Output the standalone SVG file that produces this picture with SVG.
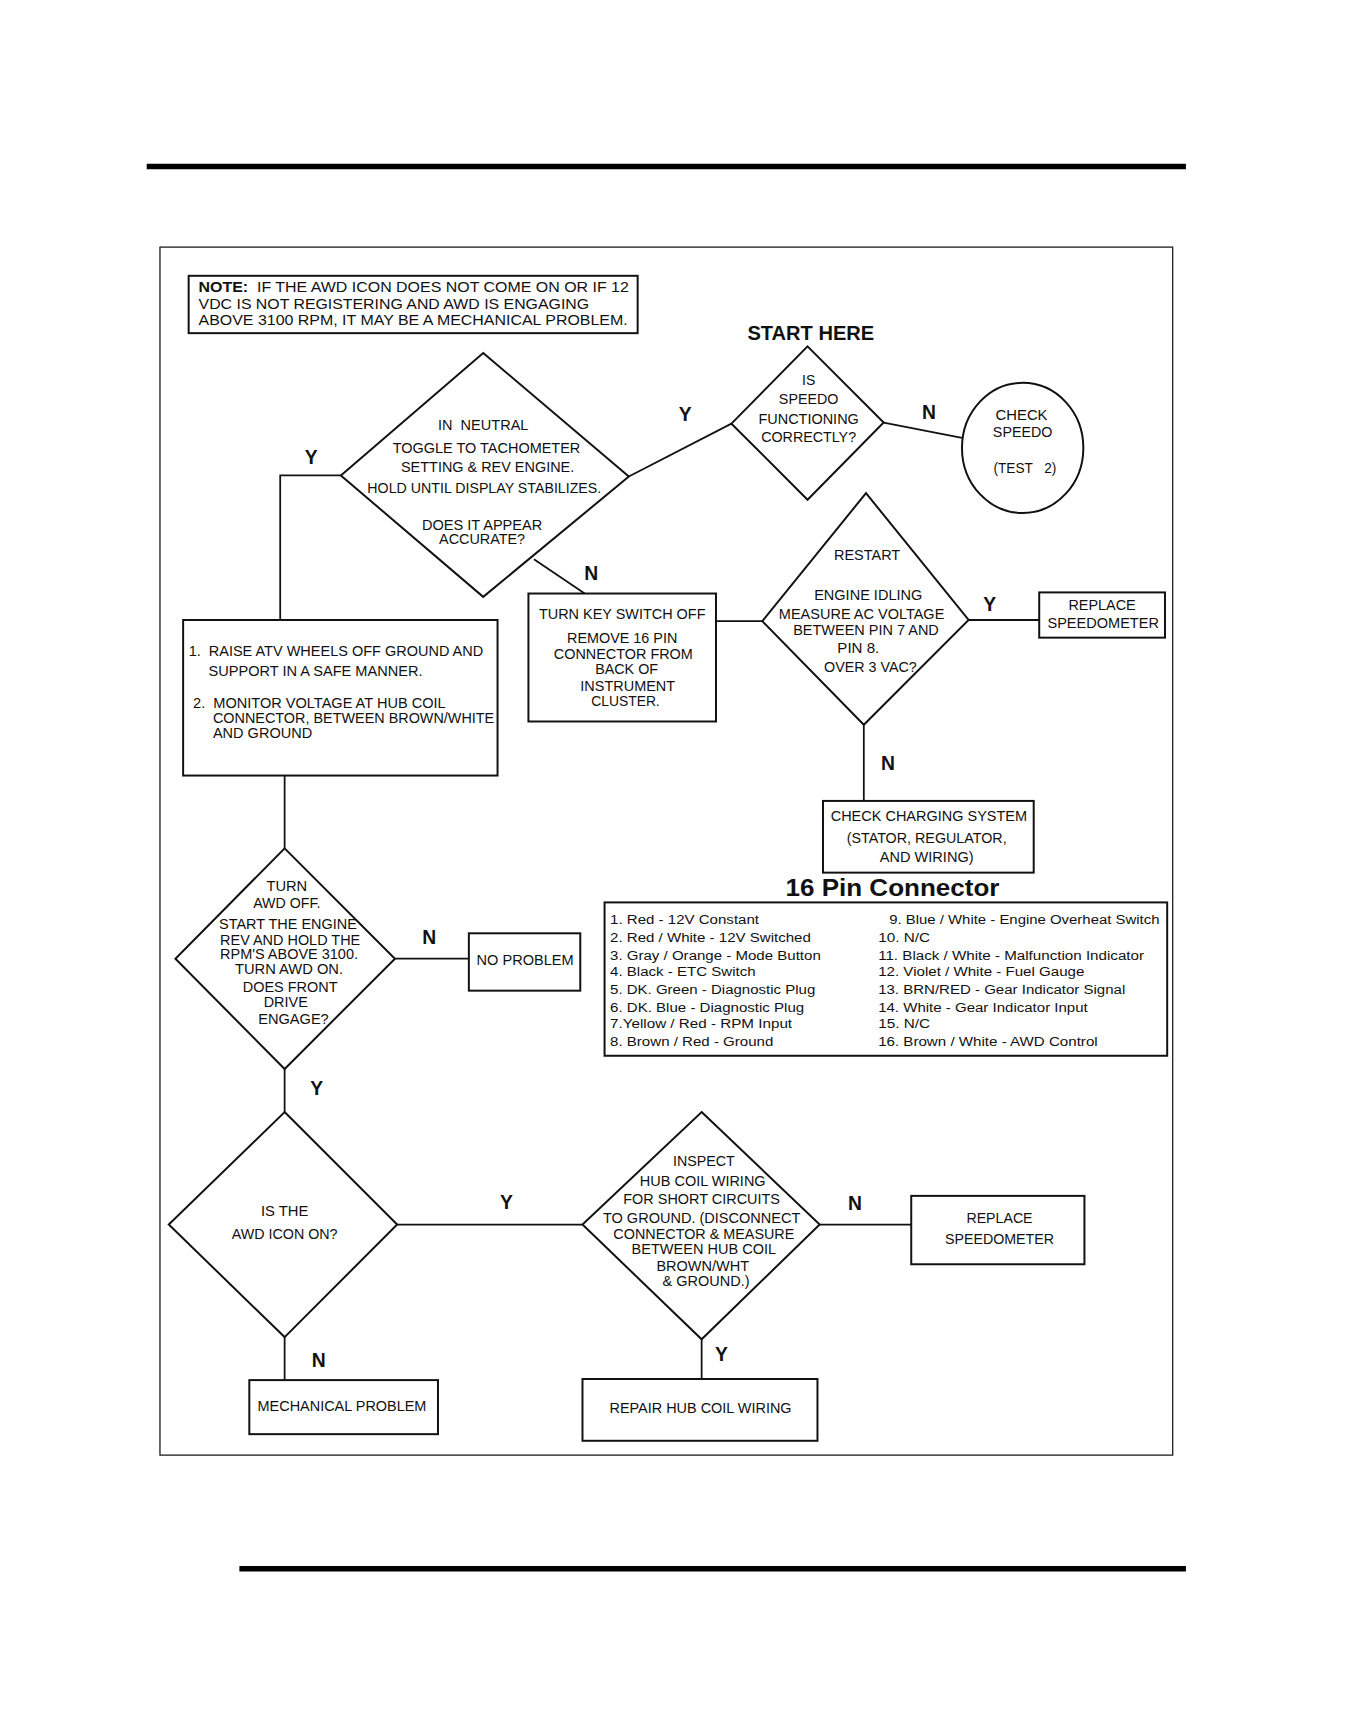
<svg xmlns="http://www.w3.org/2000/svg" width="1368" height="1728" viewBox="0 0 1368 1728">
<style>
.shape{fill:#fff;stroke:#111;stroke-width:1.8}
.frame{fill:none;stroke:#222;stroke-width:1.2}
.bar{stroke:#000;stroke-width:5}
.conn line,.conn polyline{stroke:#111;stroke-width:1.6;fill:none}
text{font-family:"Liberation Sans",Arial,Helvetica,sans-serif;fill:#111}
.t{font-size:12.5px;text-anchor:middle}
.tl{font-size:12.5px}
.p{font-size:12px}
.lab{font-size:17.5px;font-weight:bold;text-anchor:middle}
</style>
<rect x="0" y="0" width="1368" height="1728" fill="#fff"/>
<g transform="scale(1.1032)">
<g id="page">
<line class="bar" x1="133" y1="151" x2="1075" y2="151"/>
<line class="bar" x1="217" y1="1422" x2="1075" y2="1422"/>
<rect class="frame" x="145" y="224" width="918" height="1095"/>
</g>

<g class="conn" id="connectors">
<line x1="570" y1="432" x2="663" y2="384"/>
<line x1="801" y1="383" x2="872" y2="397"/>
<polyline points="309,431 254,431 254,562"/>
<line x1="484" y1="507" x2="530" y2="538"/>
<line x1="649" y1="563" x2="692" y2="563"/>
<line x1="878" y1="562" x2="942" y2="562"/>
<line x1="783" y1="657" x2="783" y2="726"/>
<line x1="258" y1="703" x2="258" y2="769"/>
<line x1="358" y1="869" x2="425" y2="869"/>
<line x1="258" y1="969" x2="258" y2="1008"/>
<line x1="360" y1="1110" x2="528" y2="1110"/>
<line x1="743" y1="1110" x2="826" y2="1110"/>
<line x1="636" y1="1214" x2="636" y2="1250"/>
<line x1="258" y1="1212" x2="258" y2="1251"/>
</g>

<g id="labels">
<text class="lab" x="621" y="382">Y</text>
<text class="lab" x="842" y="380">N</text>
<text class="lab" x="282" y="421">Y</text>
<text class="lab" x="536" y="526">N</text>
<text class="lab" x="897" y="554">Y</text>
<text class="lab" x="805" y="698">N</text>
<text class="lab" x="389" y="856">N</text>
<text class="lab" x="287" y="993">Y</text>
<text class="lab" x="459" y="1096">Y</text>
<text class="lab" x="775" y="1097">N</text>
<text class="lab" x="654" y="1234">Y</text>
<text class="lab" x="289" y="1239">N</text>
</g>

<g id="note">
<rect class="shape" x="171" y="250" width="407" height="52"/>
<text style="font-size:14px" x="180" y="265" textLength="390" lengthAdjust="spacingAndGlyphs" xml:space="preserve"><tspan font-weight="bold">NOTE:</tspan>  IF THE AWD ICON DOES NOT COME ON OR IF 12</text>
<text style="font-size:14px" x="180" y="280" textLength="354" lengthAdjust="spacingAndGlyphs">VDC IS NOT REGISTERING AND AWD IS ENGAGING</text>
<text style="font-size:14px" x="180" y="295" textLength="389" lengthAdjust="spacingAndGlyphs">ABOVE 3100 RPM, IT MAY BE A MECHANICAL PROBLEM.</text>
</g>

<g id="start-here">
<text x="735" y="308" style="font-size:18px;font-weight:bold;text-anchor:middle" textLength="115" lengthAdjust="spacingAndGlyphs">START HERE</text>
</g>

<g id="speedo-ok">
<polygon class="shape" points="732,314 801,383 732,453 663,384"/>
<text class="t" x="733" y="349" textLength="12" lengthAdjust="spacingAndGlyphs">IS</text>
<text class="t" x="733" y="366" textLength="54" lengthAdjust="spacingAndGlyphs">SPEEDO</text>
<text class="t" x="733" y="384" textLength="91" lengthAdjust="spacingAndGlyphs">FUNCTIONING</text>
<text class="t" x="733" y="401" textLength="86" lengthAdjust="spacingAndGlyphs">CORRECTLY?</text>
</g>

<g id="check-speedo">
<ellipse class="shape" cx="927" cy="406" rx="55" ry="59"/>
<text class="t" x="926" y="381" textLength="47" lengthAdjust="spacingAndGlyphs">CHECK</text>
<text class="t" x="927" y="396" textLength="54" lengthAdjust="spacingAndGlyphs">SPEEDO</text>
<text class="t" x="929" y="429" textLength="57" lengthAdjust="spacingAndGlyphs" xml:space="preserve">(TEST   2)</text>
</g>

<g id="neutral-test">
<polygon class="shape" points="438,320 570,432 438,541 309,431"/>
<text class="t" x="438" y="390" textLength="82" lengthAdjust="spacingAndGlyphs" xml:space="preserve">IN  NEUTRAL</text>
<text class="t" x="441" y="411" textLength="170" lengthAdjust="spacingAndGlyphs">TOGGLE TO TACHOMETER</text>
<text class="t" x="442" y="428" textLength="157" lengthAdjust="spacingAndGlyphs">SETTING &amp; REV ENGINE.</text>
<text class="t" x="439" y="447" textLength="212" lengthAdjust="spacingAndGlyphs">HOLD UNTIL DISPLAY STABILIZES.</text>
<text class="t" x="437" y="480" textLength="109" lengthAdjust="spacingAndGlyphs">DOES IT APPEAR</text>
<text class="t" x="437" y="493" textLength="78" lengthAdjust="spacingAndGlyphs">ACCURATE?</text>
</g>

<g id="turn-key-off">
<rect class="shape" x="479" y="538" width="170" height="116"/>
<text class="t" x="564" y="561" textLength="151" lengthAdjust="spacingAndGlyphs">TURN KEY SWITCH OFF</text>
<text class="t" x="564" y="583" textLength="100" lengthAdjust="spacingAndGlyphs">REMOVE 16 PIN</text>
<text class="t" x="565" y="597" textLength="126" lengthAdjust="spacingAndGlyphs">CONNECTOR FROM</text>
<text class="t" x="568" y="611" textLength="57" lengthAdjust="spacingAndGlyphs">BACK OF</text>
<text class="t" x="569" y="626" textLength="86" lengthAdjust="spacingAndGlyphs">INSTRUMENT</text>
<text class="t" x="567" y="640" textLength="62" lengthAdjust="spacingAndGlyphs">CLUSTER.</text>
</g>

<g id="restart-measure">
<polygon class="shape" points="785,447 878,562 783,657 691,563"/>
<text class="t" x="786" y="508" textLength="60" lengthAdjust="spacingAndGlyphs">RESTART</text>
<text class="t" x="787" y="544" textLength="98" lengthAdjust="spacingAndGlyphs">ENGINE IDLING</text>
<text class="t" x="781" y="561" textLength="150" lengthAdjust="spacingAndGlyphs">MEASURE AC VOLTAGE</text>
<text class="t" x="785" y="576" textLength="132" lengthAdjust="spacingAndGlyphs">BETWEEN PIN 7 AND</text>
<text class="t" x="778" y="592" textLength="38" lengthAdjust="spacingAndGlyphs">PIN 8.</text>
<text class="t" x="789" y="609" textLength="84" lengthAdjust="spacingAndGlyphs">OVER 3 VAC?</text>
</g>

<g id="replace-speedometer-1">
<rect class="shape" x="942" y="537" width="114" height="41"/>
<text class="t" x="999" y="553" textLength="61" lengthAdjust="spacingAndGlyphs">REPLACE</text>
<text class="t" x="1000" y="569" textLength="101" lengthAdjust="spacingAndGlyphs">SPEEDOMETER</text>
</g>

<g id="check-charging">
<rect class="shape" x="746" y="726" width="191" height="65"/>
<text class="t" x="842" y="744" textLength="178" lengthAdjust="spacingAndGlyphs">CHECK CHARGING SYSTEM</text>
<text class="t" x="840" y="764" textLength="145" lengthAdjust="spacingAndGlyphs">(STATOR, REGULATOR,</text>
<text class="t" x="840" y="781" textLength="85" lengthAdjust="spacingAndGlyphs">AND WIRING)</text>
</g>

<g id="pin-connector">
<text x="809" y="812" style="font-size:22.5px;font-weight:bold;text-anchor:middle" textLength="194" lengthAdjust="spacingAndGlyphs">16 Pin Connector</text>
<rect class="shape" x="548" y="818" width="510" height="139"/>
<text class="p" x="553" y="838" textLength="135" lengthAdjust="spacingAndGlyphs">1. Red - 12V Constant</text>
<text class="p" x="553" y="854" textLength="182" lengthAdjust="spacingAndGlyphs">2. Red / White - 12V Switched</text>
<text class="p" x="553" y="870" textLength="191" lengthAdjust="spacingAndGlyphs">3. Gray / Orange - Mode Button</text>
<text class="p" x="553" y="885" textLength="132" lengthAdjust="spacingAndGlyphs">4. Black - ETC Switch</text>
<text class="p" x="553" y="901" textLength="186" lengthAdjust="spacingAndGlyphs">5. DK. Green - Diagnostic Plug</text>
<text class="p" x="553" y="917" textLength="176" lengthAdjust="spacingAndGlyphs">6. DK. Blue - Diagnostic Plug</text>
<text class="p" x="553" y="932" textLength="165" lengthAdjust="spacingAndGlyphs">7.Yellow / Red - RPM Input</text>
<text class="p" x="553" y="948" textLength="148" lengthAdjust="spacingAndGlyphs">8. Brown / Red - Ground</text>
<text class="p" x="806" y="838" textLength="245" lengthAdjust="spacingAndGlyphs">9. Blue / White - Engine Overheat Switch</text>
<text class="p" x="796" y="854" textLength="47" lengthAdjust="spacingAndGlyphs">10. N/C</text>
<text class="p" x="796" y="870" textLength="241" lengthAdjust="spacingAndGlyphs">11. Black / White - Malfunction Indicator</text>
<text class="p" x="796" y="885" textLength="187" lengthAdjust="spacingAndGlyphs">12. Violet / White - Fuel Gauge</text>
<text class="p" x="796" y="901" textLength="224" lengthAdjust="spacingAndGlyphs">13. BRN/RED - Gear Indicator Signal</text>
<text class="p" x="796" y="917" textLength="190" lengthAdjust="spacingAndGlyphs">14. White - Gear Indicator Input</text>
<text class="p" x="796" y="932" textLength="47" lengthAdjust="spacingAndGlyphs">15. N/C</text>
<text class="p" x="796" y="948" textLength="199" lengthAdjust="spacingAndGlyphs">16. Brown / White - AWD Control</text>
</g>

<g id="raise-monitor">
<rect class="shape" x="166" y="562" width="285" height="141"/>
<text class="tl" x="171" y="595" textLength="267" lengthAdjust="spacingAndGlyphs" xml:space="preserve">1.  RAISE ATV WHEELS OFF GROUND AND</text>
<text class="tl" x="189" y="613" textLength="194" lengthAdjust="spacingAndGlyphs">SUPPORT IN A SAFE MANNER.</text>
<text class="tl" x="175" y="642" textLength="229" lengthAdjust="spacingAndGlyphs" xml:space="preserve">2.  MONITOR VOLTAGE AT HUB COIL</text>
<text class="tl" x="193" y="655" textLength="255" lengthAdjust="spacingAndGlyphs">CONNECTOR, BETWEEN BROWN/WHITE</text>
<text class="tl" x="193" y="669" textLength="90" lengthAdjust="spacingAndGlyphs">AND GROUND</text>
</g>

<g id="awd-engage-test">
<polygon class="shape" points="258,769 358,869 258,969 159,869"/>
<text class="t" x="260" y="808" textLength="37" lengthAdjust="spacingAndGlyphs">TURN</text>
<text class="t" x="260" y="823" textLength="61" lengthAdjust="spacingAndGlyphs">AWD OFF.</text>
<text class="t" x="261" y="842" textLength="125" lengthAdjust="spacingAndGlyphs">START THE ENGINE</text>
<text class="t" x="263" y="857" textLength="127" lengthAdjust="spacingAndGlyphs">REV AND HOLD THE</text>
<text class="t" x="262" y="869" textLength="125" lengthAdjust="spacingAndGlyphs">RPM'S ABOVE 3100.</text>
<text class="t" x="262" y="883" textLength="98" lengthAdjust="spacingAndGlyphs">TURN AWD ON.</text>
<text class="t" x="263" y="899" textLength="86" lengthAdjust="spacingAndGlyphs">DOES FRONT</text>
<text class="t" x="259" y="913" textLength="40" lengthAdjust="spacingAndGlyphs">DRIVE</text>
<text class="t" x="266" y="928" textLength="64" lengthAdjust="spacingAndGlyphs">ENGAGE?</text>
</g>

<g id="no-problem">
<rect class="shape" x="425" y="846" width="101" height="52"/>
<text class="t" x="476" y="875" textLength="88" lengthAdjust="spacingAndGlyphs">NO PROBLEM</text>
</g>

<g id="awd-icon-on">
<polygon class="shape" points="258,1008 360,1110 258,1212 153,1110"/>
<text class="t" x="258" y="1102" textLength="43" lengthAdjust="spacingAndGlyphs">IS THE</text>
<text class="t" x="258" y="1123" textLength="96" lengthAdjust="spacingAndGlyphs">AWD ICON ON?</text>
</g>

<g id="inspect-hub-coil">
<polygon class="shape" points="636,1008 743,1110 636,1214 528,1110"/>
<text class="t" x="638" y="1057" textLength="56" lengthAdjust="spacingAndGlyphs">INSPECT</text>
<text class="t" x="637" y="1075" textLength="114" lengthAdjust="spacingAndGlyphs">HUB COIL WIRING</text>
<text class="t" x="636" y="1091" textLength="142" lengthAdjust="spacingAndGlyphs">FOR SHORT CIRCUITS</text>
<text class="t" x="636" y="1109" textLength="179" lengthAdjust="spacingAndGlyphs">TO GROUND. (DISCONNECT</text>
<text class="t" x="638" y="1123" textLength="164" lengthAdjust="spacingAndGlyphs">CONNECTOR &amp; MEASURE</text>
<text class="t" x="638" y="1137" textLength="131" lengthAdjust="spacingAndGlyphs">BETWEEN HUB COIL</text>
<text class="t" x="637" y="1152" textLength="84" lengthAdjust="spacingAndGlyphs">BROWN/WHT</text>
<text class="t" x="640" y="1166" textLength="79" lengthAdjust="spacingAndGlyphs">&amp; GROUND.)</text>
</g>

<g id="replace-speedometer-2">
<rect class="shape" x="826" y="1084" width="157" height="62"/>
<text class="t" x="906" y="1109" textLength="60" lengthAdjust="spacingAndGlyphs">REPLACE</text>
<text class="t" x="906" y="1128" textLength="99" lengthAdjust="spacingAndGlyphs">SPEEDOMETER</text>
</g>

<g id="repair-hub-coil">
<rect class="shape" x="528" y="1250" width="213" height="56"/>
<text class="t" x="635" y="1281" textLength="165" lengthAdjust="spacingAndGlyphs">REPAIR HUB COIL WIRING</text>
</g>

<g id="mechanical-problem">
<rect class="shape" x="226" y="1251" width="171" height="49"/>
<text class="t" x="310" y="1279" textLength="153" lengthAdjust="spacingAndGlyphs">MECHANICAL PROBLEM</text>
</g>
</g>
</svg>
